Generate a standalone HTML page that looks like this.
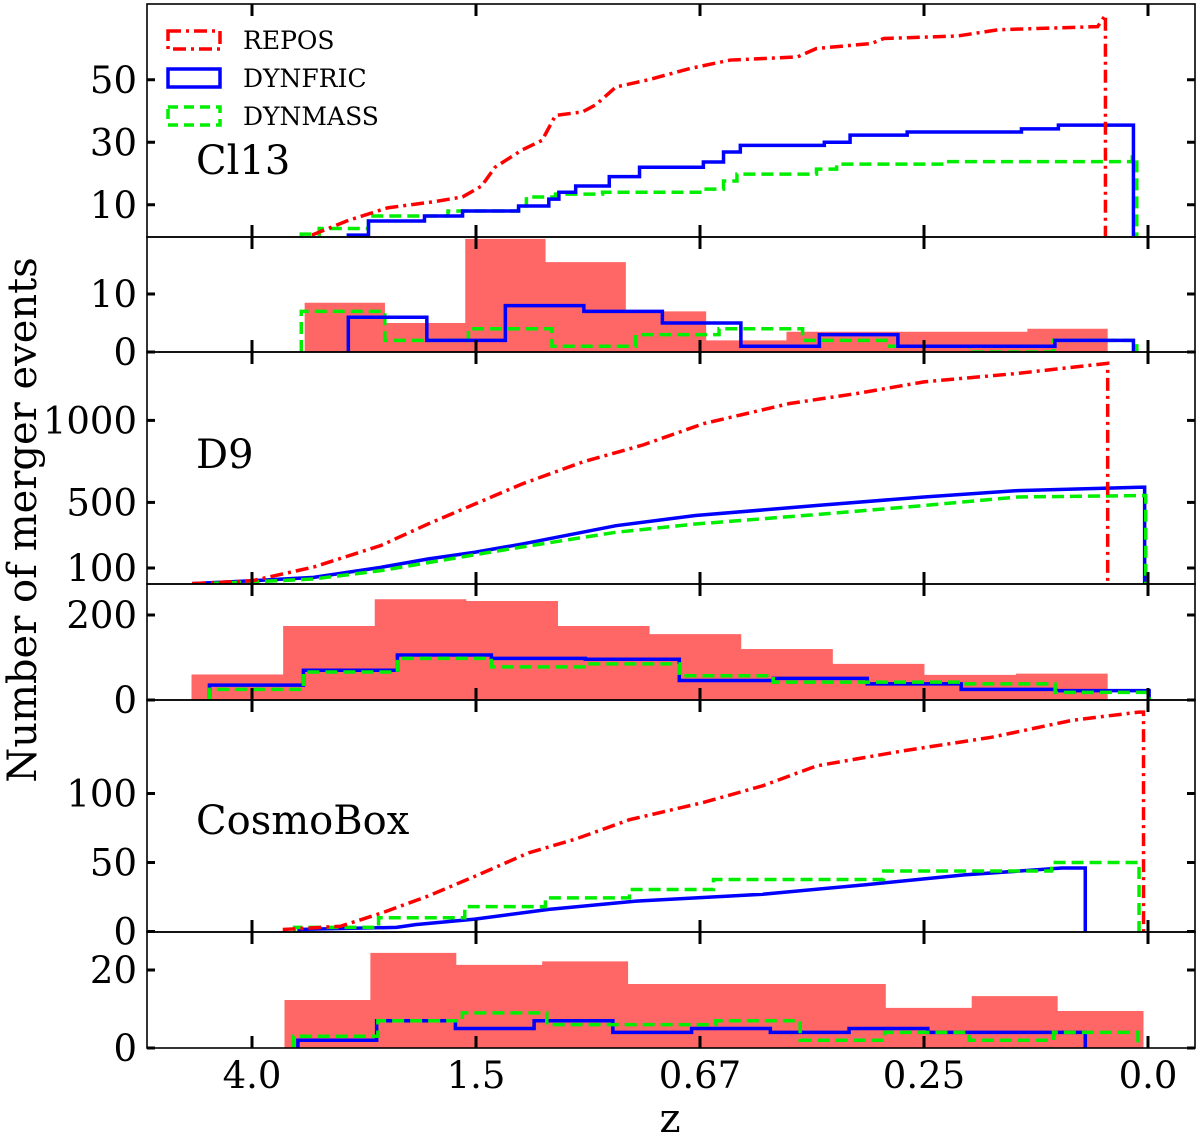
<!DOCTYPE html>
<html><head><meta charset="utf-8"><style>
html,body{margin:0;padding:0;background:#fff;overflow:hidden;}
svg{display:block;}
text{font-family:"DejaVu Serif","Liberation Serif",serif;fill:#000;}
</style></head><body>
<svg id="fig" width="1200" height="1138" viewBox="0 0 1200 1138"></svg>
<script>
// x-axis: scale factor a; tick labels are redshift z
const xTickVals = [0.2, 0.4, 0.6, 0.8, 1.0];
const xTickLabels = ['4.0', '1.5', '0.67', '0.25', '0.0'];

// Cl13 cumulative
const cl13ReposA = [0.255,0.286,0.321,0.363,0.388,0.405,0.417,0.441,0.459,0.471,0.495,0.507,0.525,0.554,0.591,0.627,0.687,0.704,0.753,0.764,0.830,0.866,0.955,0.962];
const cl13ReposN = [0.5,5,9,11,12.5,16,22,27.5,30.6,38.6,39.7,42,47.7,50,53.6,56.3,57.3,60,61.6,63.2,64,66,67,70.7];
const cl13ReposEnd = 0.962;
const cl13FricA = [0.286,0.304,0.354,0.388,0.438,0.465,0.474,0.489,0.519,0.546,0.603,0.621,0.636,0.711,0.734,0.785,0.887,0.920];
const cl13FricN = [0.3,4.8,6.4,8,9.6,11.8,14,16,19,22,23.7,26.9,29,30,32.3,33.3,34.3,35.5];
const cl13FricEnd = 0.987;
const cl13MassA = [0.244,0.26,0.304,0.375,0.438,0.445,0.471,0.513,0.603,0.621,0.633,0.704,0.722,0.818,0.986];
const cl13MassN = [0.6,2.4,6.4,8,9.6,12.5,13.4,14,15,17.6,19.8,21.4,23,23.8,25.3];
const cl13MassEnd = 0.990;
// Cl13 histograms: [lo, hi] range + counts
const cl13HistReposRange = [0.247, 0.964];
const cl13HistRepos = [8.5,5,19.5,15.5,7,2,3.5,3.5,3.5,4];
const cl13HistFricRange = [0.286, 0.987];
const cl13HistFric = [6,2,8,7,5,1,3,1,1,2];
const cl13HistMassRange = [0.244, 0.990];
const cl13HistMass = [7,2,4,1,3,4,2,1,0,2];

// D9 cumulative
const d9ReposA = [0.148,0.2,0.255,0.315,0.357,0.399,0.441,0.495,0.549,0.603,0.680,0.740,0.800,0.884,0.964];
const d9ReposN = [5,22,106,237,368,490,612,746,850,980,1103,1164,1235,1287,1348];
const d9ReposEnd = 0.964;
const d9FricA = [0.148,0.2,0.255,0.315,0.357,0.399,0.441,0.525,0.596,0.704,0.8,0.884,0.997];
const d9FricN = [5,22,43,104,155,196,246,358,420,481,533,572,593];
const d9FricEnd = 0.997;
const d9MassA = [0.148,0.2,0.255,0.315,0.399,0.441,0.525,0.596,0.704,0.8,0.884,0.997];
const d9MassN = [3,15,33,84,181,228,318,368,426,481,533,542];
const d9MassEnd = 0.998;
const d9HistReposRange = [0.146, 0.964];
const d9HistRepos = [60,174,237,233,174,155,120,85,59,62];
const d9HistFricRange = [0.162, 1.001];
const d9HistFric = [35,70,106,98,96,46,51,38,25,22];
const d9HistMassRange = [0.162, 1.001];
const d9HistMass = [25,66,98,78,85,57,42,42,38,18];

// CosmoBox cumulative
const cbReposA = [0.229,0.279,0.316,0.357,0.399,0.447,0.489,0.537,0.603,0.656,0.704,0.782,0.86,0.932,0.992];
const cbReposN = [1.5,3.8,13.5,25.6,40,57,67,81,93.5,105.6,120,131,140.7,153,159];
const cbReposEnd = 0.996;
const cbFricA = [0.242,0.329,0.346,0.399,0.465,0.543,0.656,0.749,0.836,0.923];
const cbFricN = [1.5,3,5,9,16,22,27,34,41,46];
const cbFricEnd = 0.944;
const cbMassA = [0.238,0.313,0.39,0.462,0.537,0.612,0.764,0.914];
const cbMassN = [3,10,18,24.4,30.4,37.7,43.8,50];
const cbMassEnd = 0.992;
const cbHistReposRange = [0.229, 0.996];
const cbHistRepos = [12.3,24.4,21.3,22.2,16.4,16.4,16.4,10.3,13.3,9.5];
const cbHistFricRange = [0.241, 0.944];
const cbHistFric = [2,7,5,7,4,5,4,5,4,4];
const cbHistMassRange = [0.237, 0.991];
const cbHistMass = [3,7,9,6,6,7,2,4,2,4];

// y ticks per panel
const p1Ticks = [10,30,50];
const p2Ticks = [0,10];
const p3Ticks = [100,500,1000];
const p4Ticks = [0,200];
const p5Ticks = [0,50,100];
const p6Ticks = [0,20];

const NS = 'http://www.w3.org/2000/svg';
const svg = document.getElementById('fig');
const L = 147, R = 1195;
function X(a){ return 252 + (a - 0.2) * 1120; }
function mk(tag, attrs, parent){
  const e = document.createElementNS(NS, tag);
  for (const k in attrs) e.setAttribute(k, attrs[k]);
  (parent || svg).appendChild(e);
  return e;
}
const RED = '#ff0000', BLUE = '#0000ff', GREEN = '#00ee00';
const styles = {
  repos: {stroke: RED, 'stroke-dasharray': '13,5,3,5'},
  fric: {stroke: BLUE},
  mass: {stroke: GREEN, 'stroke-dasharray': '12,6'}
};

const panels = [
  {name:'cl13-cumulative', top:4, bottom:237, zero:236, ppu:3.125, ticks:p1Ticks},
  {name:'cl13-histogram', top:237, bottom:352, zero:352, ppu:5.8, ticks:p2Ticks},
  {name:'d9-cumulative', top:352, bottom:584, zero:584.4, ppu:0.164, ticks:p3Ticks},
  {name:'d9-histogram', top:584, bottom:700, zero:700, ppu:0.425, ticks:p4Ticks},
  {name:'cosmobox-cumulative', top:700, bottom:932, zero:931.5, ppu:1.38, ticks:p5Ticks},
  {name:'cosmobox-histogram', top:932, bottom:1048, zero:1048, ppu:3.9, ticks:p6Ticks}
];
const defs = mk('defs', {});
panels.forEach((p, i) => {
  const cp = mk('clipPath', {id: 'clip' + i}, defs);
  mk('rect', {x: L, y: p.top, width: R - L, height: p.bottom - p.top}, cp);
  p.Y = v => p.zero - v * p.ppu;
  p.g = mk('g', {'clip-path': 'url(#clip' + i + ')'});
  
  
});

function cumulative(p, A, N, end, kind, step, name){
  let d = 'M' + X(A[0]) + ',' + p.Y(0);
  for (let i = 0; i < A.length; i++){
    if (step) d += ' H' + X(A[i]) + ' V' + p.Y(N[i]);
    else d += ' L' + X(A[i]) + ',' + p.Y(N[i]);
  }
  d += ' H' + X(end) + ' V' + p.Y(0);
  const e = mk('path', Object.assign({d: d, fill: 'none', 'stroke-width': 3.5}, styles[kind]), p.g);
  
  
}
function hist(p, range, C, kind, name){
  const n = C.length, w = (range[1] - range[0]) / n;
  let d = 'M' + X(range[0]) + ',' + p.Y(0);
  for (let i = 0; i < n; i++){
    d += ' V' + p.Y(C[i]) + ' H' + X(range[0] + (i + 1) * w);
  }
  d += ' V' + p.Y(0);
  let e;
  if (kind === 'repos') e = mk('path', {d: d + ' Z', fill: '#ff6666', stroke: 'none'}, p.g);
  else e = mk('path', Object.assign({d: d, fill: 'none', 'stroke-width': 3.5}, styles[kind]), p.g);
  
  
}

const P = panels;
hist(P[1], cl13HistReposRange, cl13HistRepos, 'repos', 'cl13-hist-repos');
hist(P[1], cl13HistMassRange, cl13HistMass, 'mass', 'cl13-hist-dynmass');
hist(P[1], cl13HistFricRange, cl13HistFric, 'fric', 'cl13-hist-dynfric');
cumulative(P[0], cl13MassA, cl13MassN, cl13MassEnd, 'mass', true, 'cl13-dynmass-line');
cumulative(P[0], cl13FricA, cl13FricN, cl13FricEnd, 'fric', true, 'cl13-dynfric-line');
cumulative(P[0], cl13ReposA, cl13ReposN, cl13ReposEnd, 'repos', false, 'cl13-repos-line');

hist(P[3], d9HistReposRange, d9HistRepos, 'repos', 'd9-hist-repos');
hist(P[3], d9HistFricRange, d9HistFric, 'fric', 'd9-hist-dynfric');
hist(P[3], d9HistMassRange, d9HistMass, 'mass', 'd9-hist-dynmass');
cumulative(P[2], d9FricA, d9FricN, d9FricEnd, 'fric', false, 'd9-dynfric-line');
cumulative(P[2], d9MassA, d9MassN, d9MassEnd, 'mass', false, 'd9-dynmass-line');
cumulative(P[2], d9ReposA, d9ReposN, d9ReposEnd, 'repos', false, 'd9-repos-line');

hist(P[5], cbHistReposRange, cbHistRepos, 'repos', 'cosmobox-hist-repos');
hist(P[5], cbHistFricRange, cbHistFric, 'fric', 'cosmobox-hist-dynfric');
hist(P[5], cbHistMassRange, cbHistMass, 'mass', 'cosmobox-hist-dynmass');
cumulative(P[4], cbFricA, cbFricN, cbFricEnd, 'fric', false, 'cosmobox-dynfric-line');
cumulative(P[4], cbMassA, cbMassN, cbMassEnd, 'mass', true, 'cosmobox-dynmass-line');
cumulative(P[4], cbReposA, cbReposN, cbReposEnd, 'repos', false, 'cosmobox-repos-line');

// frames, ticks, labels
panels.forEach((p) => {
  const f = mk('rect', {x: L, y: p.top, width: R - L, height: p.bottom - p.top, fill: 'none', stroke: '#000', 'stroke-width': 1.6});
  
  
  xTickVals.forEach(a => {
    const x = X(a);
    mk('line', {x1: x, x2: x, y1: p.top, y2: p.top + 12, stroke: '#000', 'stroke-width': 3});
    mk('line', {x1: x, x2: x, y1: p.bottom, y2: p.bottom - 12, stroke: '#000', 'stroke-width': 3});
  });
  p.ticks.forEach(v => {
    const y = p.Y(v);
    mk('line', {x1: L, x2: L + 8, y1: y, y2: y, stroke: '#000', 'stroke-width': 3});
    mk('line', {x1: R, x2: R - 8, y1: y, y2: y, stroke: '#000', 'stroke-width': 3});
    const t = mk('text', {x: 137, y: y + 13, 'text-anchor': 'end', 'font-size': 37});
    t.textContent = String(v);
    
    
  });
});
xTickVals.forEach((a, i) => {
  const t = mk('text', {x: X(a), y: 1088, 'text-anchor': 'middle', 'font-size': 37});
  t.textContent = xTickLabels[i];
  
  
});

function txt(x, y, s, size, name, extra){
  const t = document.createElementNS(NS, 'text');
  t.setAttribute('x', x); t.setAttribute('y', y); t.setAttribute('font-size', size);
  if (extra) for (const k in extra) t.setAttribute(k, extra[k]);
  t.textContent = s;
  
  
  svg.appendChild(t);
}
txt(670, 1132, 'z', 40, 'x-axis-title', {'text-anchor': 'middle'});
txt(0, 0, 'Number of merger events', 40, 'y-axis-title', {'text-anchor': 'middle', transform: 'translate(36,520) rotate(-90)'});
txt(196, 174, 'Cl13', 40, 'cl13-label');
txt(196, 468, 'D9', 40, 'd9-label');
txt(196, 834, 'CosmoBox', 40, 'cosmobox-label');
const leg = [['REPOS', '#ff0000', '13,5,3,5', 40], ['DYNFRIC', '#0000ff', '', 78], ['DYNMASS', '#00ee00', '10,6', 116]];
leg.forEach(l => {
  const r = document.createElementNS(NS, 'rect');
  r.setAttribute('x', 168); r.setAttribute('y', l[3] - 9); r.setAttribute('width', 52); r.setAttribute('height', 18);
  r.setAttribute('fill', 'none'); r.setAttribute('stroke', l[1]); r.setAttribute('stroke-width', 3.5);
  if (l[2]) r.setAttribute('stroke-dasharray', l[2]);
  
  
  svg.appendChild(r);
  txt(243, l[3] + 9, l[0], 25, 'legend-entry-' + l[0].toLowerCase());
});
</script>
</body></html>
